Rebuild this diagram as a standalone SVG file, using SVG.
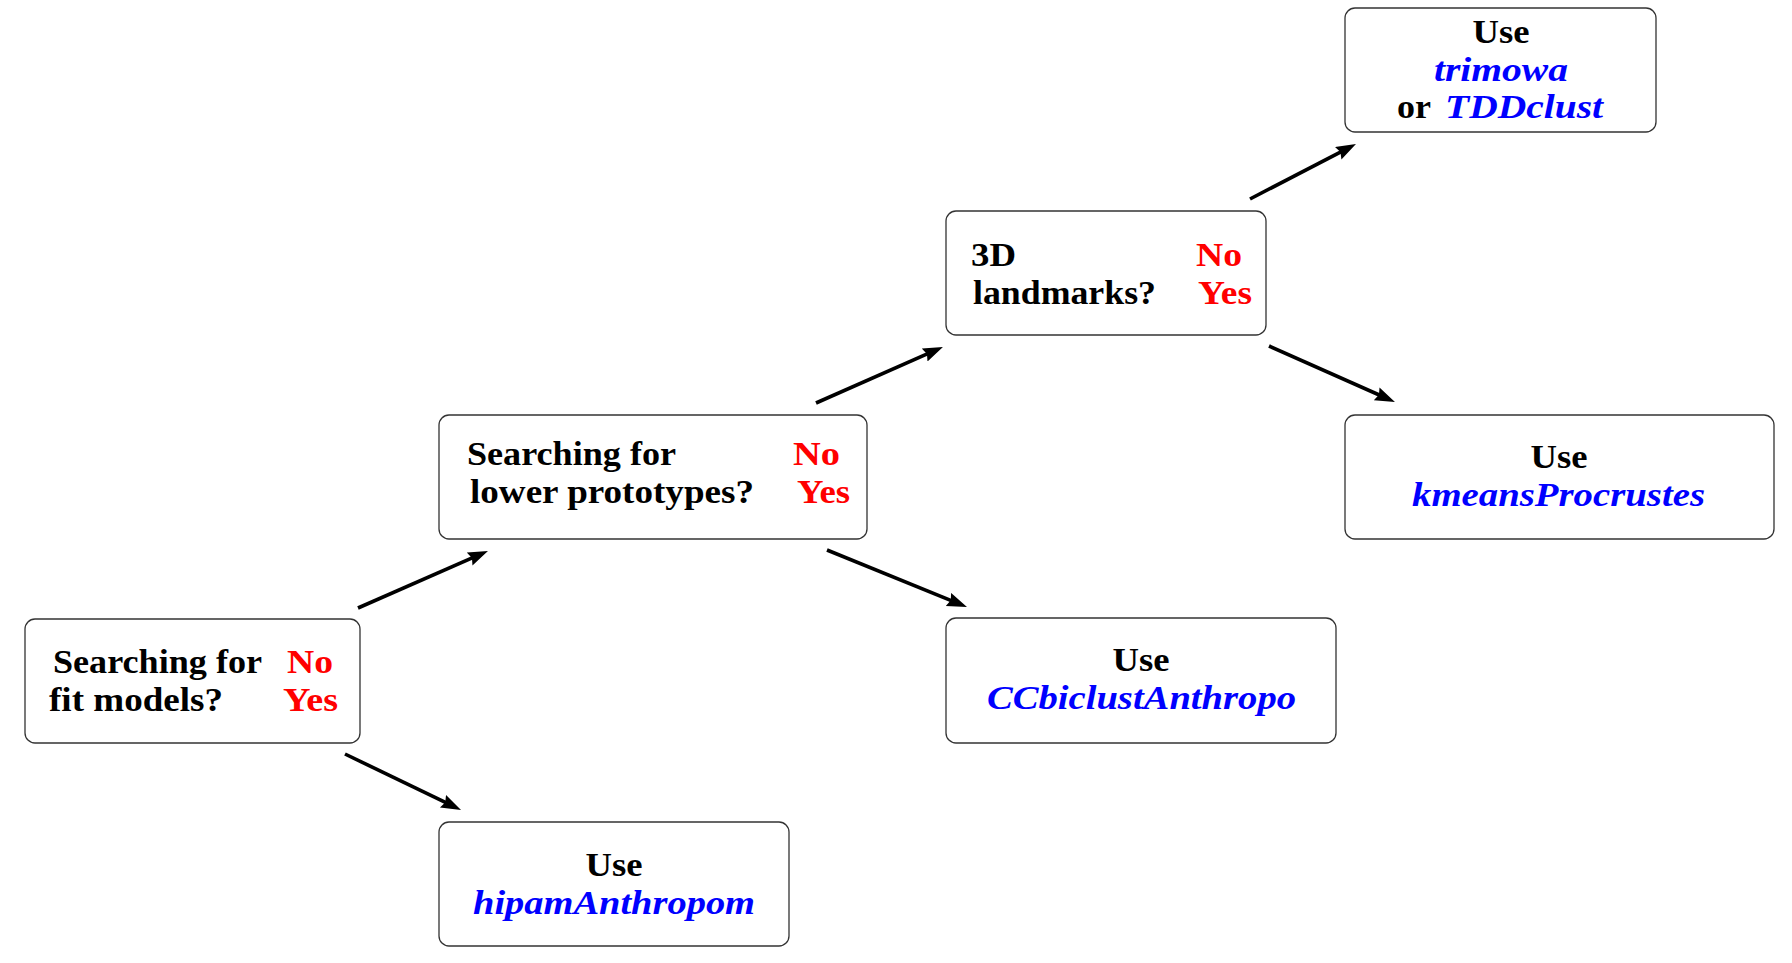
<svg xmlns="http://www.w3.org/2000/svg" width="1792" height="963" viewBox="0 0 1792 963">
<style>
.box{fill:#fff;stroke:#333;stroke-width:1.3}
text{font-family:"Liberation Serif","Times New Roman",serif;font-size:34px;font-weight:bold}
.k{fill:#000}
.r{fill:#ff0000}
.b{fill:#0000ff;font-style:italic}
.c{text-anchor:middle}
.edge{stroke:#000;stroke-width:3.6;fill:none;marker-end:url(#arr)}
</style>
<defs>
<marker id="arr" markerUnits="userSpaceOnUse" markerWidth="22" markerHeight="16" refX="9" refY="7" orient="auto">
<path d="M0,0 L20,7 L0,14 L2.5,7 Z" fill="#000"/>
</marker>
</defs>
<rect width="1792" height="963" fill="#fff"/>
<g id="connectors">
<line class="edge" x1="358" y1="608" x2="477.9" y2="555.4"/>
<line class="edge" x1="345" y1="754" x2="451.1" y2="805.2"/>
<line class="edge" x1="816" y1="403" x2="932.9" y2="351.4"/>
<line class="edge" x1="827" y1="550" x2="956.8" y2="602.8"/>
<line class="edge" x1="1250" y1="199" x2="1346.2" y2="149.1"/>
<line class="edge" x1="1269" y1="346" x2="1384.9" y2="397.5"/>
</g>
<g id="q-fit">
<rect class="box" x="25" y="619" width="335" height="124" rx="10"/>
<text class="k" x="53" y="673" textLength="209" lengthAdjust="spacingAndGlyphs">Searching for</text>
<text class="k" x="49" y="711" textLength="174" lengthAdjust="spacingAndGlyphs">fit models?</text>
<text class="r" x="287" y="673" textLength="46" lengthAdjust="spacingAndGlyphs">No</text>
<text class="r" x="283" y="711" textLength="55" lengthAdjust="spacingAndGlyphs">Yes</text>
</g>
<g id="use-hipam">
<rect class="box" x="439" y="822" width="350" height="124" rx="10"/>
<text class="k c" x="614" y="876" textLength="57" lengthAdjust="spacingAndGlyphs">Use</text>
<text class="b" x="473" y="914" textLength="282" lengthAdjust="spacingAndGlyphs">hipamAnthropom</text>
</g>
<g id="q-lower">
<rect class="box" x="439" y="415" width="428" height="124" rx="10"/>
<text class="k" x="467" y="465" textLength="209" lengthAdjust="spacingAndGlyphs">Searching for</text>
<text class="k" x="470" y="503" textLength="284" lengthAdjust="spacingAndGlyphs">lower prototypes?</text>
<text class="r" x="793" y="465" textLength="47" lengthAdjust="spacingAndGlyphs">No</text>
<text class="r" x="797" y="503" textLength="53" lengthAdjust="spacingAndGlyphs">Yes</text>
</g>
<g id="use-ccbiclust">
<rect class="box" x="946" y="618" width="390" height="125" rx="10"/>
<text class="k c" x="1141" y="671" textLength="57" lengthAdjust="spacingAndGlyphs">Use</text>
<text class="b" x="987" y="709" textLength="309" lengthAdjust="spacingAndGlyphs">CCbiclustAnthropo</text>
</g>
<g id="q-3d">
<rect class="box" x="946" y="211" width="320" height="124" rx="10"/>
<text class="k" x="971" y="266" textLength="45" lengthAdjust="spacingAndGlyphs">3D</text>
<text class="k" x="973" y="304" textLength="183" lengthAdjust="spacingAndGlyphs">landmarks?</text>
<text class="r" x="1196" y="266" textLength="46" lengthAdjust="spacingAndGlyphs">No</text>
<text class="r" x="1198" y="304" textLength="54" lengthAdjust="spacingAndGlyphs">Yes</text>
</g>
<g id="use-kmeans">
<rect class="box" x="1345" y="415" width="429" height="124" rx="10"/>
<text class="k c" x="1559" y="468" textLength="57" lengthAdjust="spacingAndGlyphs">Use</text>
<text class="b" x="1412" y="506" textLength="293" lengthAdjust="spacingAndGlyphs">kmeansProcrustes</text>
</g>
<g id="use-trimowa">
<rect class="box" x="1345" y="8" width="311" height="124" rx="10"/>
<text class="k c" x="1501" y="43" textLength="57" lengthAdjust="spacingAndGlyphs">Use</text>
<text class="b" x="1434" y="81" textLength="134" lengthAdjust="spacingAndGlyphs">trimowa</text>
<text class="k" x="1397" y="118" textLength="34" lengthAdjust="spacingAndGlyphs">or</text>
<text class="b" x="1445" y="118" textLength="158" lengthAdjust="spacingAndGlyphs">TDDclust</text>
</g>
</svg>
